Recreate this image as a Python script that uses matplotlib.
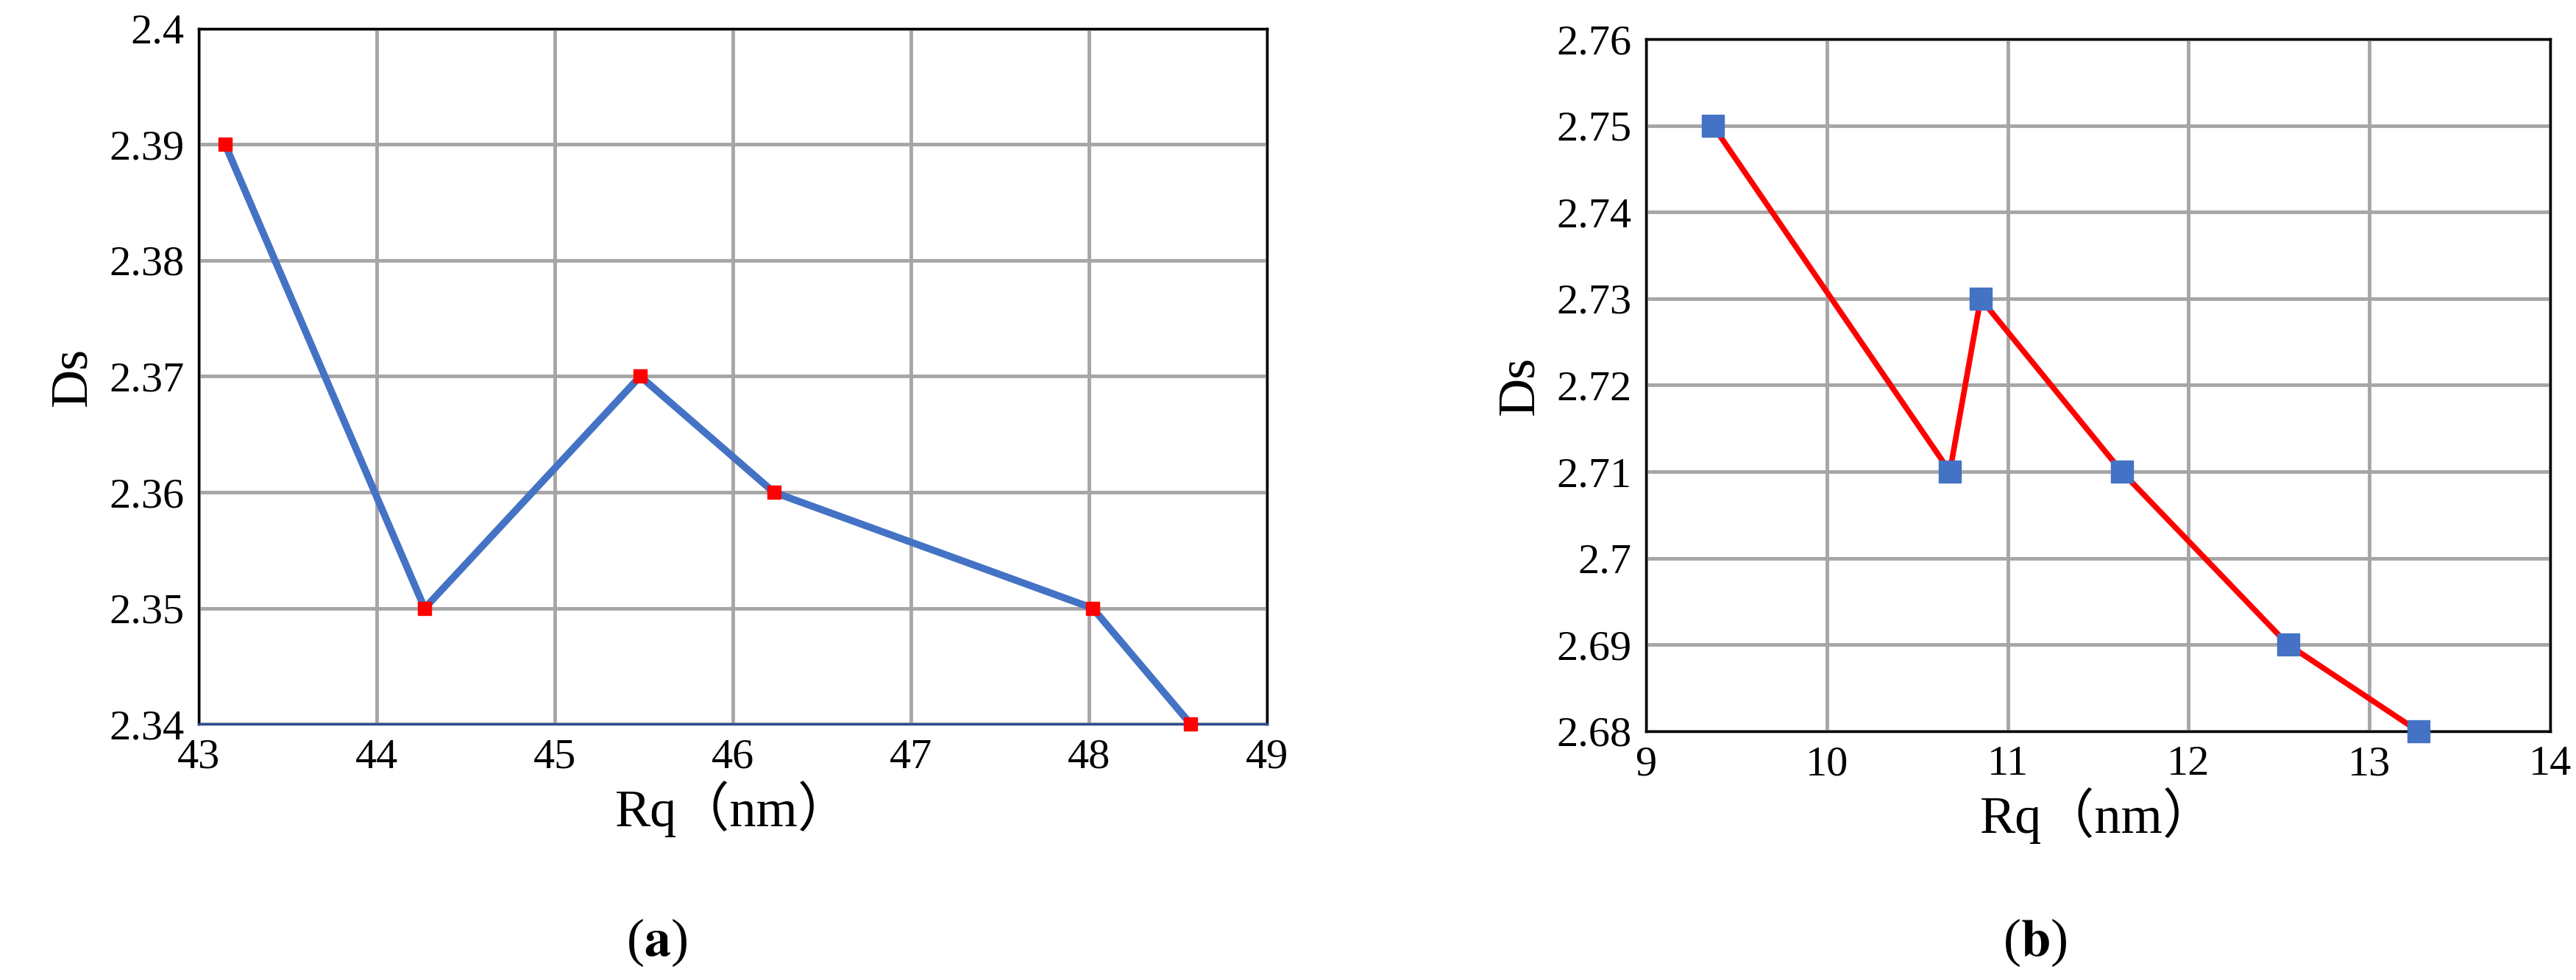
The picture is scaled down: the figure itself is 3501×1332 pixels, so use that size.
import matplotlib
matplotlib.use('Agg')
import matplotlib.pyplot as plt

xa = [43.15, 44.27, 45.48, 46.23, 48.02, 48.57]
ya = [2.39, 2.35, 2.37, 2.36, 2.35, 2.34]
xb = [9.37, 10.68, 10.85, 11.63, 12.55, 13.27]
yb = [2.75, 2.71, 2.73, 2.71, 2.69, 2.68]
xlabel = 'Rq（nm）'
ylabel = 'Ds'

plt.rcParams['font.family'] = ['Liberation Serif', 'Noto Sans CJK SC']
plt.rcParams['mathtext.fontset'] = 'stix'

fig = plt.figure(figsize=(35.01, 13.32), dpi=100)
axa = fig.add_axes([0.077, 0.261, 0.415, 0.71])
axb = fig.add_axes([0.639, 0.254, 0.351, 0.706])

def style(ax):
    ax.grid(True, color='#a6a6a6', linewidth=3.5)
    ax.set_axisbelow(True)
    ax.tick_params(labelsize=42, length=0, pad=14)
    for s in ax.spines.values():
        s.set_linewidth(2.5)
        s.set_color('black')
    ax.set_xlabel(xlabel, fontsize=52, labelpad=4)
    ax.set_ylabel(ylabel, fontsize=52, labelpad=12)

axa.plot(xa, ya, color='#4472c4', linewidth=7, marker='s', markersize=13,
         markerfacecolor='red', markeredgecolor='red', zorder=3, clip_on=False)
axa.set_xlim(43, 49); axa.set_ylim(2.34, 2.40)
axa.set_xticks(range(43, 50))
axa.set_yticks([2.34, 2.35, 2.36, 2.37, 2.38, 2.39, 2.40])
axa.set_yticklabels(['2.34', '2.35', '2.36', '2.37', '2.38', '2.39', '2.4'])
style(axa)
axa.spines['bottom'].set_color('#2f4f8f')

axb.plot(xb, yb, color='red', linewidth=5.5, marker='s', markersize=22,
         markerfacecolor='#4472c4', markeredgecolor='#4472c4', zorder=3, clip_on=False)
axb.set_xlim(9, 14); axb.set_ylim(2.68, 2.76)
axb.set_xticks(range(9, 15))
yt = [2.68, 2.69, 2.70, 2.71, 2.72, 2.73, 2.74, 2.75, 2.76]
axb.set_yticks(yt)
axb.set_yticklabels(['2.68', '2.69', '2.7', '2.71', '2.72', '2.73', '2.74', '2.75', '2.76'])
style(axb)

fig.text(0.255, 0.025, r'($\mathbf{a}$)', fontsize=52, ha='center')
fig.text(0.79, 0.025, r'($\mathbf{b}$)', fontsize=52, ha='center')

fig.savefig('out.png', dpi=100, facecolor='white')
